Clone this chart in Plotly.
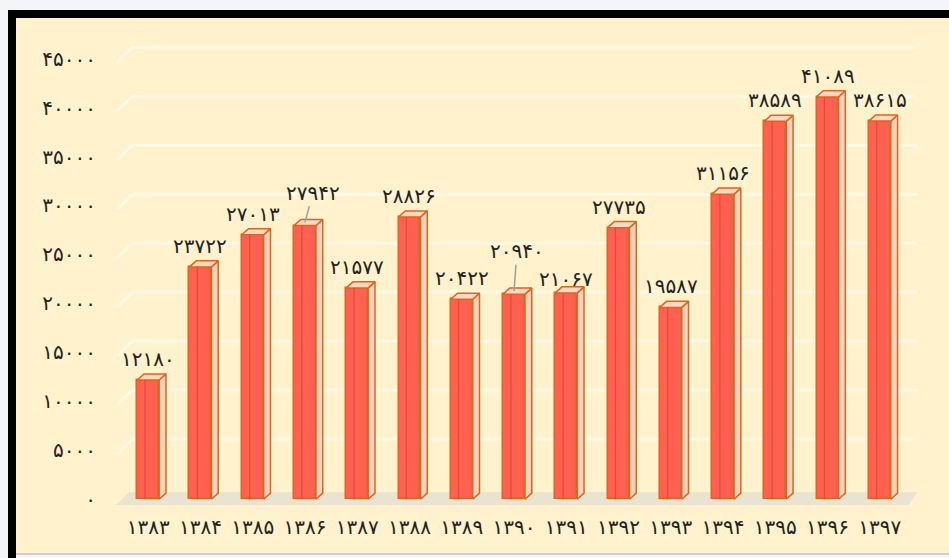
import plotly.graph_objects as go

# ---- data ----
year_labels = ["۱۳۸۳", "۱۳۸۴", "۱۳۸۵", "۱۳۸۶", "۱۳۸۷", "۱۳۸۸", "۱۳۸۹", "۱۳۹۰",
               "۱۳۹۱", "۱۳۹۲", "۱۳۹۳", "۱۳۹۴", "۱۳۹۵", "۱۳۹۶", "۱۳۹۷"]
values = [12180, 23722, 27013, 27942, 21577, 28826, 20422, 20940,
          21067, 27735, 19587, 31156, 38589, 41089, 38615]
y_ticks = [0, 5000, 10000, 15000, 20000, 25000, 30000, 35000, 40000, 45000]

FA_DIGITS = "۰۱۲۳۴۵۶۷۸۹"


def to_fa(n):
    return "".join(FA_DIGITS[int(c)] for c in str(n))


# ---- geometry / style ----
W, H = 949, 558
ML, MR, MT, MB = 109, 30, 39, 49
X_RANGE = [-0.75, 14.75]
Y_RANGE = [-1000, 47000]
BAR_W = 0.42          # front face width (category units)
DX = 0.13             # depth offset in x (category units)
DY = 620              # depth offset in y (value units)

FRONT = "#FF6151"
EDGE = "#DB661E"
SIDE = "#F6D3BA"
TOP = "#F8DAC2"
STRIPE = "#EE4433"
BG = "#FFF2CC"
TXT = "#222222"
FONT = "DejaVu Sans"
FS = 20

pw, ph = W - ML - MR, H - MT - MB


def px_x(p):
    return (p - ML) / pw


def px_y(p):
    return 1 - (p - MT) / ph


xs = list(range(len(values)))
fig = go.Figure()

shapes = [
    # frame around the chart
    dict(type="rect", xref="paper", yref="paper", x0=px_x(8), x1=px_x(960), y0=px_y(18), y1=px_y(10),
         fillcolor="#000000", line=dict(width=0), layer="below"),
    dict(type="rect", xref="paper", yref="paper", x0=px_x(8), x1=px_x(16), y0=px_y(560), y1=px_y(10),
         fillcolor="#000000", line=dict(width=0), layer="below"),
    dict(type="rect", xref="paper", yref="paper", x0=px_x(16), x1=px_x(960), y0=px_y(553), y1=px_y(18),
         fillcolor=BG, line=dict(width=0), layer="below"),
    dict(type="rect", xref="paper", yref="paper", x0=px_x(16), x1=px_x(960), y0=px_y(555), y1=px_y(553),
         fillcolor="#CFCFCF", line=dict(width=0), layer="below"),
    # floor under the bars
    dict(type="path", xref="x", yref="y", layer="below",
         path="M -0.62,-600 L 14.55,-600 L 14.72,700 L -0.36,700 Z",
         fillcolor="#E9E3D2", line=dict(width=0)),
]
# back-wall gridlines with a slanted left end
for t in y_ticks[1:]:
    shapes.append(dict(type="path", xref="x", yref="y", layer="below",
                       path=f"M -0.6,{t - 400} L -0.3,{t + 1150} L 14.72,{t + 1150}",
                       line=dict(color="rgba(255,255,255,0.5)", width=3)))

# front faces
fig.add_trace(go.Bar(x=xs, y=values, width=BAR_W,
                     marker=dict(color=FRONT, line=dict(color=EDGE, width=1.5)),
                     hoverinfo="skip", showlegend=False))

# side faces, top faces and the front-face highlight stripe
sx, sy, tx, ty, lx, ly = [], [], [], [], [], []
for i, v in zip(xs, values):
    x0, x1 = i - BAR_W / 2, i + BAR_W / 2
    sx += [x1, x1 + DX, x1 + DX, x1, x1, None]
    sy += [0, DY, v + DY, v, 0, None]
    tx += [x0, x1, x1 + DX, x0 + DX, x0, None]
    ty += [v, v, v + DY, v + DY, v, None]
    lx += [x0 + 0.15, x0 + 0.15, None]
    ly += [0, v, None]
fig.add_trace(go.Scatter(x=sx, y=sy, fill="toself", fillcolor=SIDE, mode="lines",
                         line=dict(color=EDGE, width=1.5), hoverinfo="skip", showlegend=False))
fig.add_trace(go.Scatter(x=tx, y=ty, fill="toself", fillcolor=TOP, mode="lines",
                         line=dict(color=EDGE, width=1.5), hoverinfo="skip", showlegend=False))
fig.add_trace(go.Scatter(x=lx, y=ly, mode="lines", line=dict(color=STRIPE, width=1.2),
                         hoverinfo="skip", showlegend=False))

# value labels
leader = {3: (8, -30), 7: (3, -40)}
lift = {8: 14}
for i, v in zip(xs, values):
    if i in leader:
        ax, ay = leader[i]
        fig.add_annotation(x=i, y=v + DY / 2, text=to_fa(v), showarrow=True, arrowhead=0,
                           arrowwidth=1.5, arrowcolor="#A0A0A0", ax=ax, ay=ay, standoff=0,
                           font=dict(family=FONT, size=FS, color=TXT))
    else:
        fig.add_annotation(x=i, y=v, text=to_fa(v), showarrow=False, yanchor="middle",
                           yshift=lift.get(i, 21), font=dict(family=FONT, size=FS, color=TXT))

fig.update_layout(
    width=W, height=H,
    margin=dict(l=ML, r=MR, t=MT, b=MB),
    paper_bgcolor="#F3F5F9", plot_bgcolor="rgba(0,0,0,0)",
    shapes=shapes, bargap=0, showlegend=False,
    xaxis=dict(range=X_RANGE, tickmode="array", tickvals=xs, ticktext=year_labels,
               showgrid=False, zeroline=False, showline=False, ticks="",
               ticklabelstandoff=4, tickfont=dict(family=FONT, size=FS, color=TXT), fixedrange=True),
    yaxis=dict(range=Y_RANGE, tickmode="array", tickvals=y_ticks, ticktext=[to_fa(t) for t in y_ticks],
               showgrid=False, zeroline=False, showline=False, ticks="",
               ticklabelstandoff=12, tickfont=dict(family=FONT, size=FS, color=TXT), fixedrange=True),
)

fig.write_html("out.html")
